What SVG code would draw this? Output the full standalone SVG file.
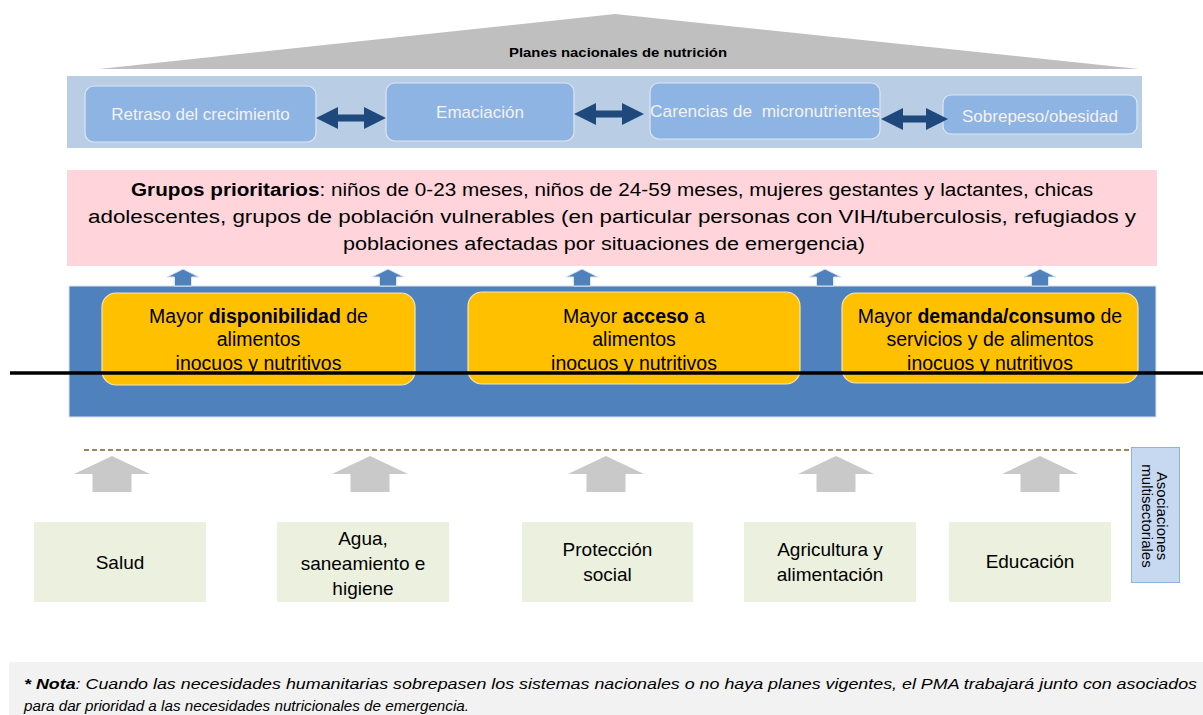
<svg xmlns="http://www.w3.org/2000/svg" width="1203" height="715" viewBox="0 0 1203 715">
<defs>
<style>
.sans{font-family:"Liberation Sans",Arial,sans-serif}
.probox{fill:#8eb4e3;stroke:#dce6f2;stroke-width:1.2}
.protext{font-family:"Liberation Sans",Arial,sans-serif;font-size:17px;fill:#f2f2f2;text-anchor:middle}
.ybox{fill:#ffc000;stroke:#f2e6c0;stroke-width:1.2}
.ytext{font-family:"Liberation Sans",Arial,sans-serif;font-size:19.5px;fill:#000;text-anchor:middle}
.gbox{fill:#ebf1de}
.gtext{font-family:"Liberation Sans",Arial,sans-serif;font-size:19px;fill:#000;text-anchor:middle}
.dbl{fill:#1f497d}
.uparrow{fill:#4f81bd;stroke:#dce6f2;stroke-width:1}
.grayarrow{fill:#c9c9c9}
</style>
</defs>
<rect width="1203" height="715" fill="#ffffff"/>

<g id="planes">
<polygon points="99,69 615,14 1139,69" fill="#bfbfbf"/>
<text x="618" y="57" class="sans" font-size="13" font-weight="bold" text-anchor="middle" textLength="218" lengthAdjust="spacingAndGlyphs">Planes nacionales de nutrición</text>
</g>

<g id="problemas-band">
<rect x="67" y="76" width="1075" height="72" fill="#b9cde5"/>
</g>
<g id="retraso">
<rect x="85" y="86" width="231" height="56" rx="9" class="probox"/>
<text x="200.5" y="120" class="protext">Retraso del crecimiento</text>
</g>
<g id="emaciacion">
<rect x="386" y="83" width="188" height="58" rx="9" class="probox"/>
<text x="480" y="118" class="protext">Emaciación</text>
</g>
<g id="carencias">
<rect x="650" y="83" width="230" height="56" rx="9" class="probox"/>
<text x="650" y="117" class="protext" style="text-anchor:start;white-space:pre" textLength="230" lengthAdjust="spacingAndGlyphs">Carencias de  micronutrientes</text>
</g>
<g id="sobrepeso">
<rect x="943" y="95" width="194" height="39" rx="8" class="probox"/>
<text x="1040" y="122" class="protext">Sobrepeso/obesidad</text>
</g>

<g id="grupos">
<rect x="67" y="170" width="1090" height="96" fill="#ffd5db"/>
<text x="612" y="196" class="sans" font-size="18" text-anchor="middle" textLength="962" lengthAdjust="spacingAndGlyphs"><tspan font-weight="bold">Grupos prioritarios</tspan>: niños de 0-23 meses, niños de 24-59 meses, mujeres gestantes y lactantes, chicas</text>
<text x="612" y="223" class="sans" font-size="18" text-anchor="middle" textLength="1048" lengthAdjust="spacingAndGlyphs">adolescentes, grupos de población vulnerables (en particular personas con VIH/tuberculosis, refugiados y</text>
<text x="604" y="250" class="sans" font-size="18" text-anchor="middle" textLength="522" lengthAdjust="spacingAndGlyphs">poblaciones afectadas por situaciones de emergencia)</text>
</g>

<g id="resultados">
<rect x="69" y="286" width="1087" height="131" fill="#4f81bd" stroke="#dce6f2" stroke-width="1"/>
</g>
<g id="disponibilidad">
<rect x="102" y="293" width="313" height="92" rx="14" class="ybox"/>
<text x="258.5" y="323" class="ytext">Mayor <tspan font-weight="bold">disponibilidad</tspan> de</text>
<text x="258.5" y="346" class="ytext">alimentos</text>
<text x="258.5" y="370" class="ytext">inocuos y nutritivos</text>
</g>
<g id="acceso">
<rect x="468" y="292" width="332" height="92" rx="14" class="ybox"/>
<text x="634" y="323" class="ytext">Mayor <tspan font-weight="bold">acceso</tspan> a</text>
<text x="634" y="346" class="ytext">alimentos</text>
<text x="634" y="370" class="ytext">inocuos y nutritivos</text>
</g>
<g id="demanda">
<rect x="842" y="293" width="296" height="90" rx="14" class="ybox"/>
<text x="990" y="323" class="ytext">Mayor <tspan font-weight="bold">demanda/consumo</tspan> de</text>
<text x="990" y="346" class="ytext">servicios y de alimentos</text>
<text x="990" y="370" class="ytext">inocuos y nutritivos</text>
</g>

<g id="linea-negra">
<line x1="10" y1="373" x2="1203" y2="373" stroke="#000" stroke-width="3.5"/>
</g>

<g id="asociaciones">
<line x1="84" y1="450" x2="1131" y2="450" stroke="#948a54" stroke-width="2" stroke-dasharray="5,3"/>
<rect x="1131.5" y="447.5" width="48" height="135" fill="#c6d9f1" stroke="#8eb4e3" stroke-width="1"/>
<text transform="translate(1157,516) rotate(90)" class="sans" font-size="15" text-anchor="middle">Asociaciones</text>
<text transform="translate(1142,516) rotate(90)" class="sans" font-size="15" text-anchor="middle">multisectoriales</text>
</g>

<g id="salud">
<rect x="34" y="522" width="172" height="80" class="gbox"/>
<text x="120" y="569" class="gtext">Salud</text>
</g>
<g id="agua">
<rect x="277" y="522" width="172" height="80" class="gbox"/>
<text x="363" y="545" class="gtext">Agua,</text>
<text x="363" y="570" class="gtext">saneamiento e</text>
<text x="363" y="595" class="gtext">higiene</text>
</g>
<g id="proteccion">
<rect x="522" y="522" width="171" height="80" class="gbox"/>
<text x="607.5" y="556" class="gtext">Protección</text>
<text x="607.5" y="581" class="gtext">social</text>
</g>
<g id="agricultura">
<rect x="744" y="522" width="172" height="80" class="gbox"/>
<text x="830" y="556" class="gtext">Agricultura y</text>
<text x="830" y="581" class="gtext">alimentación</text>
</g>
<g id="educacion">
<rect x="949" y="522" width="162" height="80" class="gbox"/>
<text x="1030" y="568" class="gtext">Educación</text>
</g>

<g id="connectors">
<polygon class="dbl" points="316,118 338,107 338,114.5 364,114.5 364,107 386,118 364,129 364,121.5 338,121.5 338,129"/>
<polygon class="dbl" points="574,114 596,103 596,110.5 622,110.5 622,103 644,114 622,125 622,117.5 596,117.5 596,125"/>
<polygon class="dbl" points="881,119 903,108 903,115.5 926,115.5 926,108 948,119 926,130 926,122.5 903,122.5 903,130"/>
<g class="uparrow">
<polygon points="183,269 199,277 191.5,277 191.5,286 174.5,286 174.5,277 167,277"/>
<polygon points="388,269 404,277 396.5,277 396.5,286 379.5,286 379.5,277 372,277"/>
<polygon points="582,269 598,277 590.5,277 590.5,286 573.5,286 573.5,277 566,277"/>
<polygon points="825,269 841,277 833.5,277 833.5,286 816.5,286 816.5,277 809,277"/>
<polygon points="1040,269 1056,277 1048.5,277 1048.5,286 1031.5,286 1031.5,277 1024,277"/>
</g>
<g class="grayarrow">
<polygon points="112,456 150,474 131.5,474 131.5,492 92.5,492 92.5,474 74,474"/>
<polygon points="370,456 408,474 389.5,474 389.5,492 350.5,492 350.5,474 332,474"/>
<polygon points="606,456 644,474 625.5,474 625.5,492 586.5,492 586.5,474 568,474"/>
<polygon points="836,456 874,474 855.5,474 855.5,492 816.5,492 816.5,474 798,474"/>
<polygon points="1040,456 1078,474 1059.5,474 1059.5,492 1020.5,492 1020.5,474 1002,474"/>
</g>
</g>

<g id="nota">
<rect x="9" y="662" width="1194" height="53" fill="#f2f2f2"/>
<text x="24" y="689" class="sans" font-size="15.5" font-style="italic" textLength="1173" lengthAdjust="spacingAndGlyphs"><tspan font-weight="bold">* Nota</tspan>: Cuando las necesidades humanitarias sobrepasen los sistemas nacionales o no haya planes vigentes, el PMA trabajará junto con asociados</text>
<text x="24" y="711" class="sans" font-size="15.5" font-style="italic" textLength="445" lengthAdjust="spacingAndGlyphs">para dar prioridad a las necesidades nutricionales de emergencia.</text>
</g>
</svg>
